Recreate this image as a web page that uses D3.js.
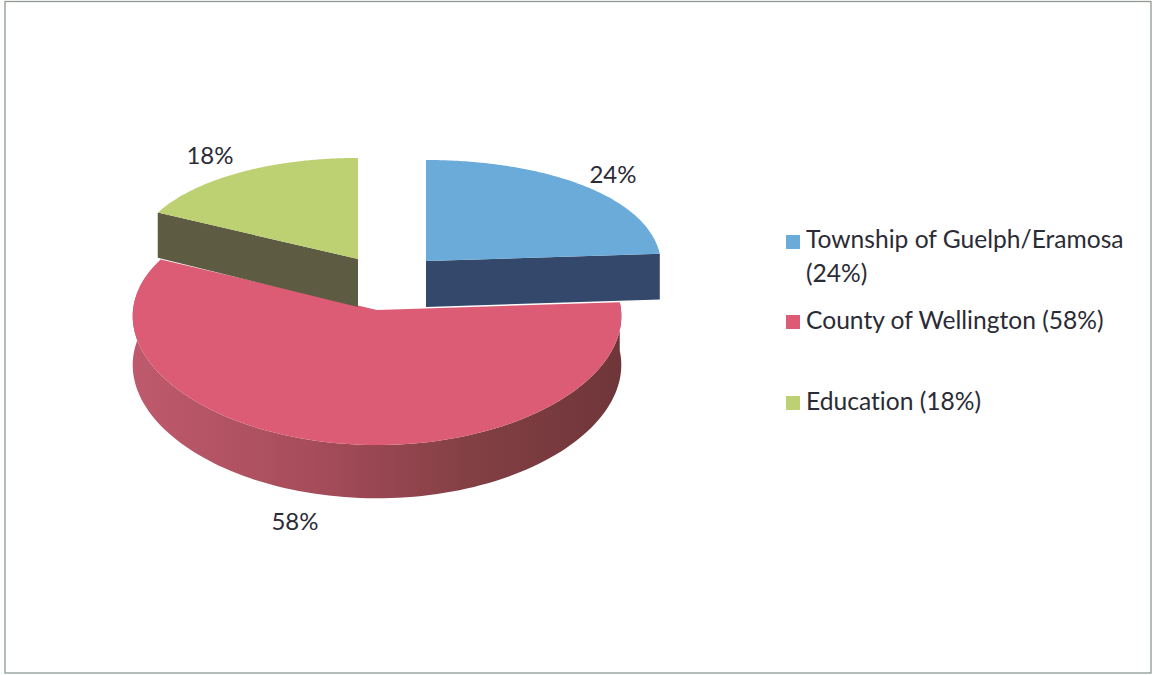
<!DOCTYPE html>
<html>
<head>
<meta charset="utf-8">
<script src="https://cdn.jsdelivr.net/npm/d3@7"></script>
<style>
html,body{margin:0;padding:0;background:#fff}
svg{display:block}
text{font-family:Lato,"Open Sans",sans-serif;fill:#2b2b36;font-variant-ligatures:none}
</style>
</head>
<body>
<script>
// Share of the municipal tax bill
const categories = ["Township of Guelph/Eramosa", "County of Wellington", "Education"];
const shares = [24, 58, 18];
const topColors = ["#6babd9", "#dc5c76", "#bdd072"];
const wallColors = ["#34486c", "url(#redWall)", "#5d5b42"];
const legendLines = [["Township of Guelph/Eramosa", "(24%)"], ["County of Wellington (58%)"], ["Education (18%)"]];

// Slice placement on the tilted disc
const layout = [
  {cx: 426, cy: 261, r: 235, tilt: 115.6, persp: 0.144, depth: 46, label: [613, 183], swatch: 235, text: [248, 282]},
  {cx: 377, cy: 310, r: 244, tilt: 123, persp: 0.089, depth: 48.5, label: [295, 530], swatch: 315, text: [329]},
  {cx: 358, cy: 259, r: 226, tilt: 115.6, persp: 0.144, depth: 48, label: [210, 164], swatch: 396, text: [410]}
];
const widthPersp = 0.05;

const width = 1154, height = 675;
const svg = d3.select("body").append("svg").attr("width", width).attr("height", height);

const grad = svg.append("defs").append("linearGradient").attr("id", "redWall");
[["0%", "#bf5a6d"], ["40%", "#a44b59"], ["70%", "#823f44"], ["100%", "#6f3639"]].forEach(([o, c]) =>
  grad.append("stop").attr("offset", o).attr("stop-color", c));

// Frame
svg.append("rect").attr("x", 5).attr("y", 1.5).attr("width", 1146).attr("height", 671.5)
  .attr("fill", "none").attr("stroke", "#8e9a92").attr("stroke-width", 1.3);

const arcs = d3.pie().sort(null)(shares);

// Map a disc angle to screen space with a simple perspective foreshortening
function project(angle, pos, drop = 0) {
  const u = Math.sin(angle), v = Math.cos(angle);
  const s = 1 / (1 + pos.persp * v);
  return [pos.cx + pos.r * u / (1 + widthPersp * v), pos.cy - pos.tilt * v * s + drop * s];
}
const line = d3.line();
const sweep = (a0, a1) => d3.range(0, 121).map(i => a0 + (a1 - a0) * i / 120);

function topFace(d, pos) {
  return line([[pos.cx, pos.cy], ...sweep(d.startAngle, d.endAngle).map(a => project(a, pos))]) + "Z";
}
function rimWall(d, pos) {
  const angles = sweep(d.startAngle, d.endAngle);
  return line([...angles.map(a => project(a, pos)), ...angles.reverse().map(a => project(a, pos, pos.depth))]) + "Z";
}
function cutWall(angle, pos) {
  return line([[pos.cx, pos.cy], project(angle, pos), project(angle, pos, pos.depth), [pos.cx, pos.cy + pos.depth]]) + "Z";
}

// The large slice goes first; the pulled-out slices overlap its back edge
const pie = svg.append("g");
[1, 2, 0].forEach(i => {
  const d = arcs[i], pos = layout[i];
  const g = pie.append("g");
  if (i === 1) {
    g.append("path").attr("d", rimWall(d, pos)).attr("fill", wallColors[i]);
  } else {
    const cut = i === 0 ? d.endAngle : d.startAngle;
    g.append("path").attr("d", cutWall(cut, pos)).attr("fill", wallColors[i]);
  }
  g.append("path").attr("d", topFace(d, pos)).attr("fill", topColors[i]);
});

// Percentage labels
svg.append("g").selectAll("text").data(arcs).join("text")
  .attr("x", (d, i) => layout[i].label[0])
  .attr("y", (d, i) => layout[i].label[1])
  .attr("text-anchor", "middle").attr("font-size", 24)
  .text(d => d.value + "%");

// Legend
const legend = svg.append("g").selectAll("g").data(categories).join("g");
legend.append("rect").attr("x", 786).attr("y", (d, i) => layout[i].swatch)
  .attr("width", 14).attr("height", 14).attr("fill", (d, i) => topColors[i]);
legend.each(function (d, i) {
  d3.select(this).selectAll("text").data(legendLines[i]).join("text")
    .attr("x", 806).attr("y", (t, j) => layout[i].text[j])
    .attr("font-size", 24.6).text(t => t);
});
</script>
</body>
</html>
